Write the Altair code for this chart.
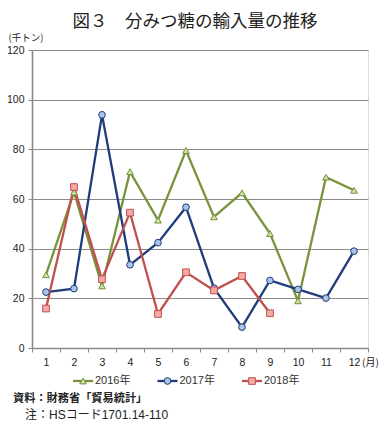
import altair as alt
import pandas as pd

# ---- texts ----
title_text = "図３　分みつ糖の輸入量の推移"
unit_y = "(千トン)"
unit_x = "(月)"
notes = ["資料：財務省「貿易統計」", "注：HSコード1701.14-110"]

# ---- data ----
months = [1, 2, 3, 4, 5, 6, 7, 8, 9, 10, 11, 12]
series = ["2016年", "2017年", "2018年"]
v2016 = [29.5, 62.8, 25.0, 71.0, 51.5, 79.5, 52.8, 62.5, 46.1, 19.0, 68.8, 63.5]
v2017 = [22.5, 23.9, 93.9, 33.5, 42.4, 56.7, 24.1, 8.4, 27.2, 23.6, 20.1, 39.0]
v2018 = [15.9, 64.8, 27.7, 54.5, 13.7, 30.5, 23.2, 29.0, 14.0]
y_ticks = [0, 20, 40, 60, 80, 100, 120]

# ---- styles ----
line_colors = ["#77933C", "#1F3D7A", "#C0504D"]
marker_fills = ["#CFE0A8", "#A9C3EA", "#F4AAA8"]
marker_shapes = ["triangle-up", "circle", "square"]

rows = []
for s, vals in zip(series, [v2016, v2017, v2018]):
    for m, v in zip(months, vals):
        rows.append({"month": m, "series": s, "value": v})
df = pd.DataFrame(rows)
legend_df = pd.DataFrame({"series": series})

W, H = 336, 298
FONT_NUM = "Liberation Sans, Noto Sans CJK JP"
FONT_JP = "Noto Sans CJK JP"
GRID = "#8a8a8a"
TXT = "#222222"

stroke_scale = alt.Scale(domain=series, range=line_colors)
fill_scale = alt.Scale(domain=series, range=marker_fills)
shape_scale = alt.Scale(domain=series, range=marker_shapes)

x_scale = alt.Scale(type="band", domain=months, paddingInner=0, paddingOuter=0)
x_axis = alt.Axis(
    title=None, labelAngle=0, tickBand="extent", grid=False,
    domainColor=GRID, domainWidth=1.6, tickColor=GRID, tickSize=4, tickWidth=1,
    labelFont=FONT_NUM, labelFontSize=10.5, labelColor=TXT, labelPadding=5,
)
x_enc = alt.X("month:O", scale=x_scale, axis=x_axis)
y_enc = alt.Y(
    "value:Q",
    scale=alt.Scale(domain=[0, 120], nice=False, zero=True),
    axis=alt.Axis(
        values=y_ticks, title=unit_y, titleAngle=0, titleX=-24, titleY=-13,
        titleAlign="left", titleBaseline="middle", titleFont=FONT_JP,
        titleFontSize=9.5, titleFontWeight="normal", titleColor=TXT,
        grid=True, gridColor=GRID, gridWidth=1,
        domainColor=GRID, domainWidth=1.6, tickColor=GRID, tickSize=4,
        labelFont=FONT_NUM, labelFontSize=10.5, labelColor=TXT, labelPadding=4,
    ),
)

lines = alt.Chart(df).mark_line(strokeWidth=2.3).encode(
    x=x_enc, y=y_enc,
    stroke=alt.Stroke("series:N", scale=stroke_scale, legend=None),
)

points = alt.Chart(df).mark_point(filled=True, size=45, strokeWidth=1, opacity=1).encode(
    x=x_enc, y=y_enc,
    stroke=alt.Stroke("series:N", scale=stroke_scale, legend=None),
    fill=alt.Fill("series:N", scale=fill_scale, legend=None),
    shape=alt.Shape("series:N", scale=shape_scale, legend=None),
)

main = alt.layer(lines, points)

# ---- legend drawn from the series list through its own point scale ----
leg_x = alt.X(
    "series:N",
    scale=alt.Scale(type="point", domain=series, range=[51, 220], padding=0),
    axis=None,
)
leg_y = alt.value(H + 33)

leg_line = alt.Chart(legend_df).mark_point(
    shape="M-1,0H1", size=400, strokeWidth=2.3, opacity=1, filled=False
).encode(x=leg_x, y=leg_y, stroke=alt.Stroke("series:N", scale=stroke_scale, legend=None))
leg_mark = alt.Chart(legend_df).mark_point(filled=True, size=45, strokeWidth=1, opacity=1).encode(
    x=leg_x, y=leg_y,
    stroke=alt.Stroke("series:N", scale=stroke_scale, legend=None),
    fill=alt.Fill("series:N", scale=fill_scale, legend=None),
    shape=alt.Shape("series:N", scale=shape_scale, legend=None),
)
leg_text = alt.Chart(legend_df).mark_text(
    align="left", baseline="middle", dx=12, font=FONT_NUM, fontSize=11, color="#333333"
).encode(x=leg_x, y=leg_y, text="series:N")

legend_group = alt.layer(leg_line, leg_mark, leg_text)

month_unit = alt.Chart(alt.Data(values=[{"t": unit_x}])).mark_text(
    align="left", baseline="middle", font=FONT_JP, fontSize=10, color=TXT
).encode(text="t:N", x=alt.value(W - 6), y=alt.value(H + 15))

note1 = alt.Chart(alt.Data(values=[{"t": notes[0]}])).mark_text(
    align="left", baseline="middle", font=FONT_JP, fontSize=11.2, fontWeight="bold", color=TXT
).encode(text="t:N", x=alt.value(-19), y=alt.value(H + 51))

note2 = alt.Chart(alt.Data(values=[{"t": notes[1]}])).mark_text(
    align="left", baseline="middle", font=FONT_NUM, fontSize=12, color=TXT
).encode(text="t:N", x=alt.value(-7), y=alt.value(H + 67))

chart = alt.layer(main, legend_group, month_unit, note1, note2).resolve_scale(
    x="independent"
).properties(
    width=W, height=H,
    title=alt.Title(title_text, font=FONT_JP, fontSize=17.5, fontWeight="normal",
                    color=TXT, anchor="middle", offset=2, dx=-5),
    autosize=alt.AutoSizeParams(type="none"),
    padding={"left": 24, "top": 42, "right": 11, "bottom": 73},
).configure_view(stroke=None).configure(background="white")

chart.save("out.html", embed_options={"renderer": "svg", "actions": False})
